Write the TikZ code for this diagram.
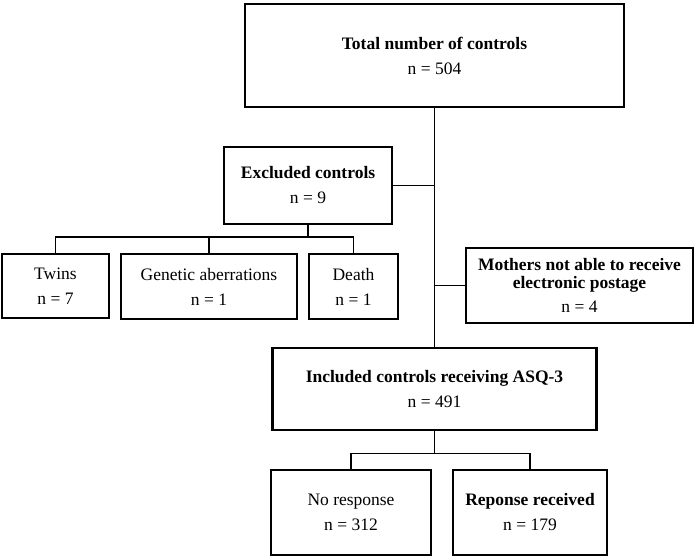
\documentclass[tikz,border=0pt]{standalone}
\usepackage{fontspec}
\setmainfont{Liberation Serif}
\usetikzlibrary{calc}
\begin{document}
\begin{tikzpicture}[x=1pt,y=-1pt,
  box/.style={draw,line width=2.2pt,inner sep=0pt,align=center,
    font=\fontsize{17.5}{25}\selectfont},
  conn/.style={line width=1.3pt}]
\useasboundingbox (0,0) rectangle (697,559);
\node[box,minimum width=379pt,minimum height=103pt] (top) at (434.5,55.5)
  {\textbf{Total number of controls}\\n = 504};
\node[box,minimum width=168pt,minimum height=77pt] (excl) at (308,185.5)
  {\textbf{Excluded controls}\\n = 9};
\node[box,minimum width=107pt,minimum height=64pt] (twins) at (55.5,286)
  {Twins\\n = 7};
\node[box,minimum width=176pt,minimum height=65pt] (gen) at (209,286.5)
  {Genetic aberrations\\n = 1};
\node[box,minimum width=89pt,minimum height=65pt] (death) at (353.5,286.5)
  {Death\\n = 1};
\node[box,minimum width=227pt,minimum height=75pt,
  font=\fontsize{17.5}{18}\selectfont] (moth) at (579.5,285.5)
  {\textbf{Mothers not able to receive}\\\textbf{electronic postage}\\[6pt]n = 4};
\node[box,minimum width=324pt,minimum height=82pt] (incl) at (434.5,389)
  {\textbf{Included controls receiving ASQ-3}\\n = 491};
\node[box,minimum width=160pt,minimum height=85pt] (nores) at (351,512.5)
  {No response\\n = 312};
\node[box,minimum width=154pt,minimum height=85pt] (resp) at (530,512.5)
  {\textbf{Reponse received}\\n = 179};
% trunk
\draw[conn] (top.south) -- (incl.north);
\draw[conn] (excl.east) -- (excl.east -| top.south);
\draw[conn] (moth.west) -- (moth.west -| top.south);
% excluded split
\coordinate (ej) at ($(excl.south)+(0,12)$);
\draw[conn] (excl.south) -- (ej);
\draw[conn] (twins.north) |- (ej) -| (death.north);
\draw[conn] (gen.north) -- (gen.north |- ej);
% included split
\coordinate (ij) at ($(incl.south)+(0,22.5)$);
\draw[conn] (incl.south) -- (ij);
\draw[conn] (nores.north) |- (ij) -| (resp.north);
\end{tikzpicture}
\end{document}
